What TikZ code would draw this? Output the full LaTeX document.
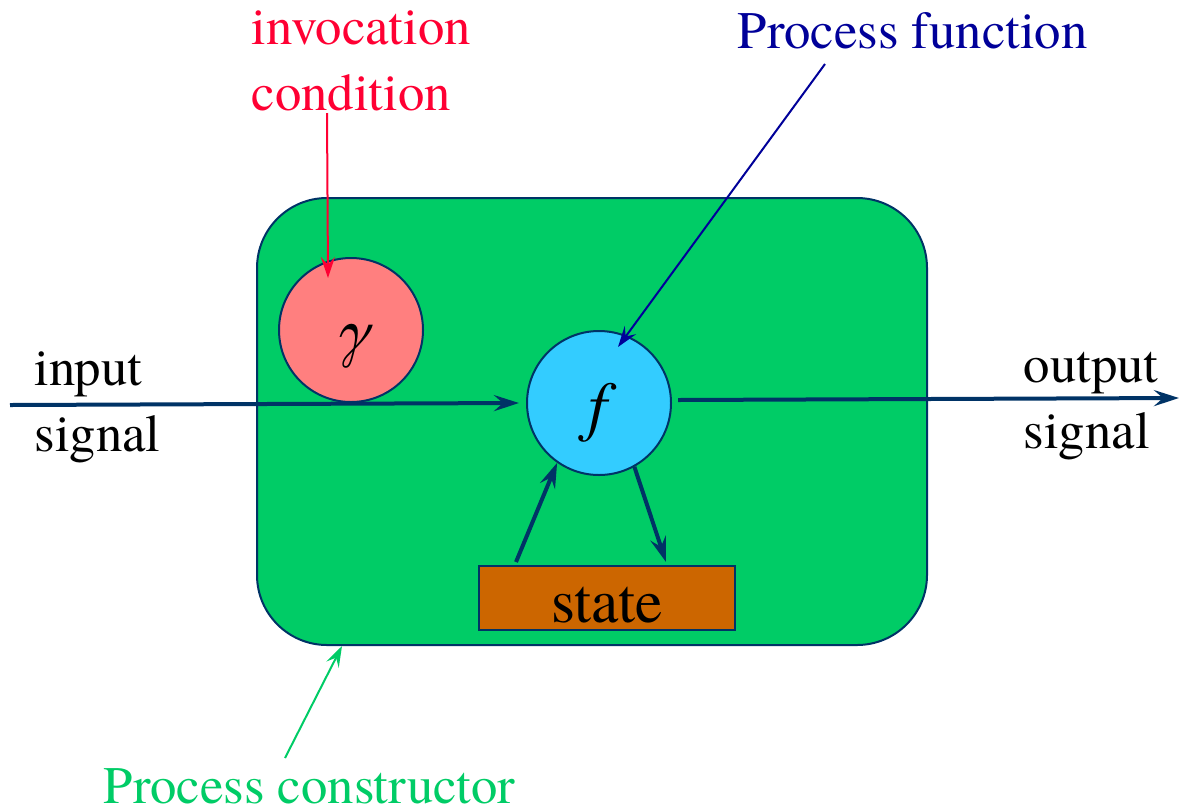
\documentclass[tikz,border=0pt]{standalone}
\usepackage{fontspec}
\setmainfont{texgyretermes}[Extension=.otf,UprightFont=*-regular,ItalicFont=*-italic,BoldFont=*-bold,BoldItalicFont=*-bolditalic]
\usetikzlibrary{arrows.meta,calc}
\definecolor{navy}{HTML}{003366}
\definecolor{boxgreen}{HTML}{00CC66}
\definecolor{gamred}{HTML}{FF7F7F}
\definecolor{fcyan}{HTML}{33CCFF}
\definecolor{stateorange}{HTML}{CC6600}
\definecolor{invred}{HTML}{FF0033}
\definecolor{pfblue}{HTML}{000099}

\begin{document}
\begin{tikzpicture}[x=0.1mm,y=-0.1mm,
  lbl/.style={anchor=base west, inner sep=0pt, align=left,
              font=\fontsize{15}{18.5}\selectfont},
  bubble/.style={circle, draw=navy, line width=0.2mm, minimum size=14.4mm, inner sep=0pt},
  sym/.style={anchor=base, inner sep=0pt, font=\fontsize{18}{20}\selectfont\itshape},
  sig/.style={draw=navy, line width=0.4mm,
              -{Stealth[length=2.5mm,width=1.6mm,inset=0.9mm]}},
  pointer/.style={line width=0.2mm,
              -{Stealth[length=2.1mm,width=1.4mm,inset=0.8mm]}}]
\useasboundingbox (0,0) rectangle (1180,810);

% process constructor body
\node[draw=navy, line width=0.2mm, fill=boxgreen, rounded corners=7mm,
      minimum width=67mm, minimum height=44.7mm, inner sep=0pt] (pc) at (592,421.5) {};

% invocation condition and process function
\node[bubble, fill=gamred] (gam) at (351,330) {};
\node[sym] (gamsym) at (351,352) {γ};
\node[bubble, fill=fcyan] (fc) at (599,403) {};
\node[sym, font=\fontsize{19}{21}\selectfont\itshape] (fsym) at (598,428) {f};

% state
\node[draw=navy, line width=0.2mm, fill=stateorange, minimum width=25.6mm,
      minimum height=6.4mm, inner sep=0pt, text height=4.8mm, text depth=0pt,
      font=\fontsize{17.5}{20}\selectfont] (st) at (607,598) {state};

% labels (anchored on the baseline of their last line)
\node[lbl, text=invred] (inv) at (251,110) {invocation\\condition};
\node[lbl, text=pfblue] (pf) at (737,48) {Process function};
\node[lbl] (inp) at (34,451) {input\\signal};
\node[lbl] (outp) at (1023,448) {output\\signal};
\node[lbl, text=boxgreen] (pcl) at (103,803) {Process constructor};

% free ends of the connectors
\coordinate (inL) at (10,405);
\coordinate (outR) at (1179,398);
\coordinate (invA) at (327,113);
\coordinate (pfA) at (825,64);
\coordinate (pcA) at (285,758);

% signal flow
\draw[sig] (inL) -- ([xshift=-0.7mm]fc.west);
\draw[sig] ([xshift=0.6mm,yshift=0.3mm]fc.east) -- (outR);
\draw[sig] ($(st.north west)+(38,-3)$) -- (fc.235);
\draw[sig] (fc.-61) -- ($(st.north west)+(188,-3)$);

% annotation pointers
\draw[pointer, draw=invred] (invA) -- ($(gam.center)+(-23,-52)$);
\draw[pointer, draw=pfblue] (pfA) -- ($(fc.center)+(19,-56)$);
\draw[pointer, draw=boxgreen] (pcA) -- ($(pc.south west)+(86,0)$);
\end{tikzpicture}
\end{document}
